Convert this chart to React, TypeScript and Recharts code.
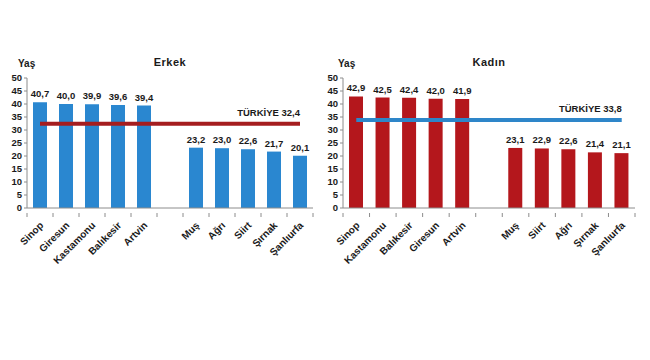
import React from 'react';
import { ComposedChart, Bar, Line, XAxis, YAxis, LabelList } from 'recharts';

// Erkek (erkek ortanca yaş)
const erkekIller = ['Sinop', 'Giresun', 'Kastamonu', 'Balıkesir', 'Artvin', '', 'Muş', 'Ağrı', 'Siirt', 'Şırnak', 'Şanlıurfa'];
const erkekYas = [40.7, 40.0, 39.9, 39.6, 39.4, null, 23.2, 23.0, 22.6, 21.7, 20.1];
const erkekTurkiye = 32.4;

// Kadın
const kadinIller = ['Sinop', 'Kastamonu', 'Balıkesir', 'Giresun', 'Artvin', '', 'Muş', 'Siirt', 'Ağrı', 'Şırnak', 'Şanlıurfa'];
const kadinYas = [42.9, 42.5, 42.4, 42.0, 41.9, null, 23.1, 22.9, 22.6, 21.4, 21.1];
const kadinTurkiye = 33.8;

const yTicks = [0, 5, 10, 15, 20, 25, 30, 35, 40, 45, 50];

const FONT = '"Liberation Sans", Arial, sans-serif';
const TXT = '#1a1a1a';
const AXIS = '#8c8c8c';

const fmt = (v: number) => v.toFixed(1).replace('.', ',');

const XTick = (props: any) => {
  const { x, y, payload, index, step, count } = props;
  return (
    <g>
      <line x1={x - step / 2} x2={x - step / 2} y1={y - 3} y2={y + 1} stroke={AXIS} />
      {index === count - 1 && (
        <line x1={x + step / 2} x2={x + step / 2} y1={y - 3} y2={y + 1} stroke={AXIS} />
      )}
      <text
        x={x + 4}
        y={y + 10}
        transform={`rotate(-45, ${x + 4}, ${y + 10})`}
        textAnchor="end"
        fontSize={10}
        fontWeight="bold"
        fontFamily={FONT}
        fill={TXT}
      >
        {payload.value}
      </text>
    </g>
  );
};

type PanelProps = {
  title: string;
  cats: string[];
  values: (number | null)[];
  ref_: number;
  barColor: string;
  lineColor: string;
  left: number;
  width: number;
  plotLeft: number;
  plotRight: number;
  yasLeft: number;
};

const Panel = ({ title, cats, values, ref_, barColor, lineColor, left, width, plotLeft, plotRight, yasLeft }: PanelProps) => {
  const data = cats.map((c, i) => ({ il: c, yas: values[i], turkiye: ref_ }));
  const step = (plotRight - plotLeft) / cats.length;
  const yAxisW = 24;
  const top = 78;
  const bottom = 208;
  const height = 360;

  const lineLabel = (p: any) => {
    if (p.index !== cats.length - 1) return null;
    return (
      <text x={p.x} y={p.y - 8} textAnchor="end" fontSize={9.5} fontWeight="bold" fontFamily={FONT} fill={TXT}>
        {`TÜRKİYE ${fmt(ref_)}`}
      </text>
    );
  };

  return (
    <div style={{ position: 'absolute', left, top: 0, width, height }}>
      <ComposedChart
        width={width}
        height={height}
        data={data}
        margin={{ top, right: width - plotRight + left, bottom: 0, left: plotLeft - left - yAxisW }}
        barCategoryGap={0}
      >
        <XAxis
          dataKey="il"
          interval={0}
          height={height - bottom}
          axisLine={{ stroke: AXIS }}
          tickLine={false}
          tick={(p: any) => <XTick {...p} step={step} count={cats.length} />}
        />
        <YAxis
          width={yAxisW}
          domain={[0, 50]}
          ticks={yTicks}
          interval={0}
          axisLine={{ stroke: AXIS }}
          tickLine={{ stroke: AXIS }}
          tickSize={3}
          tick={{ fontSize: 9.5, fontWeight: 'bold', fontFamily: FONT, fill: TXT }}
        />
        <Bar dataKey="yas" fill={barColor} barSize={14} isAnimationActive={false}>
          <LabelList
            dataKey="yas"
            position="top"
            offset={5}
            formatter={(v: any) => (v == null ? '' : fmt(v))}
            style={{ fontSize: 9.5, fontWeight: 'bold', fontFamily: FONT, fill: TXT }}
          />
        </Bar>
        <Line
          dataKey="turkiye"
          stroke={lineColor}
          strokeWidth={4}
          dot={false}
          activeDot={false}
          isAnimationActive={false}
        >
          <LabelList dataKey="turkiye" content={lineLabel} />
        </Line>
      </ComposedChart>
      <div
        style={{
          position: 'absolute',
          left: 0,
          top: 56,
          width: plotRight - left + (plotLeft - left),
          textAlign: 'center',
          fontFamily: FONT,
          fontWeight: 'bold',
          fontSize: 11,
          color: TXT,
          letterSpacing: 0.5,
          lineHeight: '12px',
        }}
      >
        {title}
      </div>
      <div
        style={{
          position: 'absolute',
          left: yasLeft,
          top: 58,
          fontFamily: FONT,
          fontWeight: 'bold',
          fontSize: 10,
          color: TXT,
          lineHeight: '12px',
        }}
      >
        Yaş
      </div>
    </div>
  );
};

export default function App() {
  return (
    <div style={{ position: 'absolute', left: 0, top: 0, width: 650, height: 360, background: '#fff', overflow: 'hidden' }}>
      <Panel
        title="Erkek"
        cats={erkekIller}
        values={erkekYas}
        ref_={erkekTurkiye}
        barColor="#2A87D0"
        lineColor="#A51D1F"
        left={0}
        width={322}
        plotLeft={27}
        plotRight={313}
        yasLeft={18}
      />
      <Panel
        title="Kadın"
        cats={kadinIller}
        values={kadinYas}
        ref_={kadinTurkiye}
        barColor="#B4171C"
        lineColor="#2E86C9"
        left={322}
        width={328}
        plotLeft={343}
        plotRight={635}
        yasLeft={16}
      />
    </div>
  );
}
